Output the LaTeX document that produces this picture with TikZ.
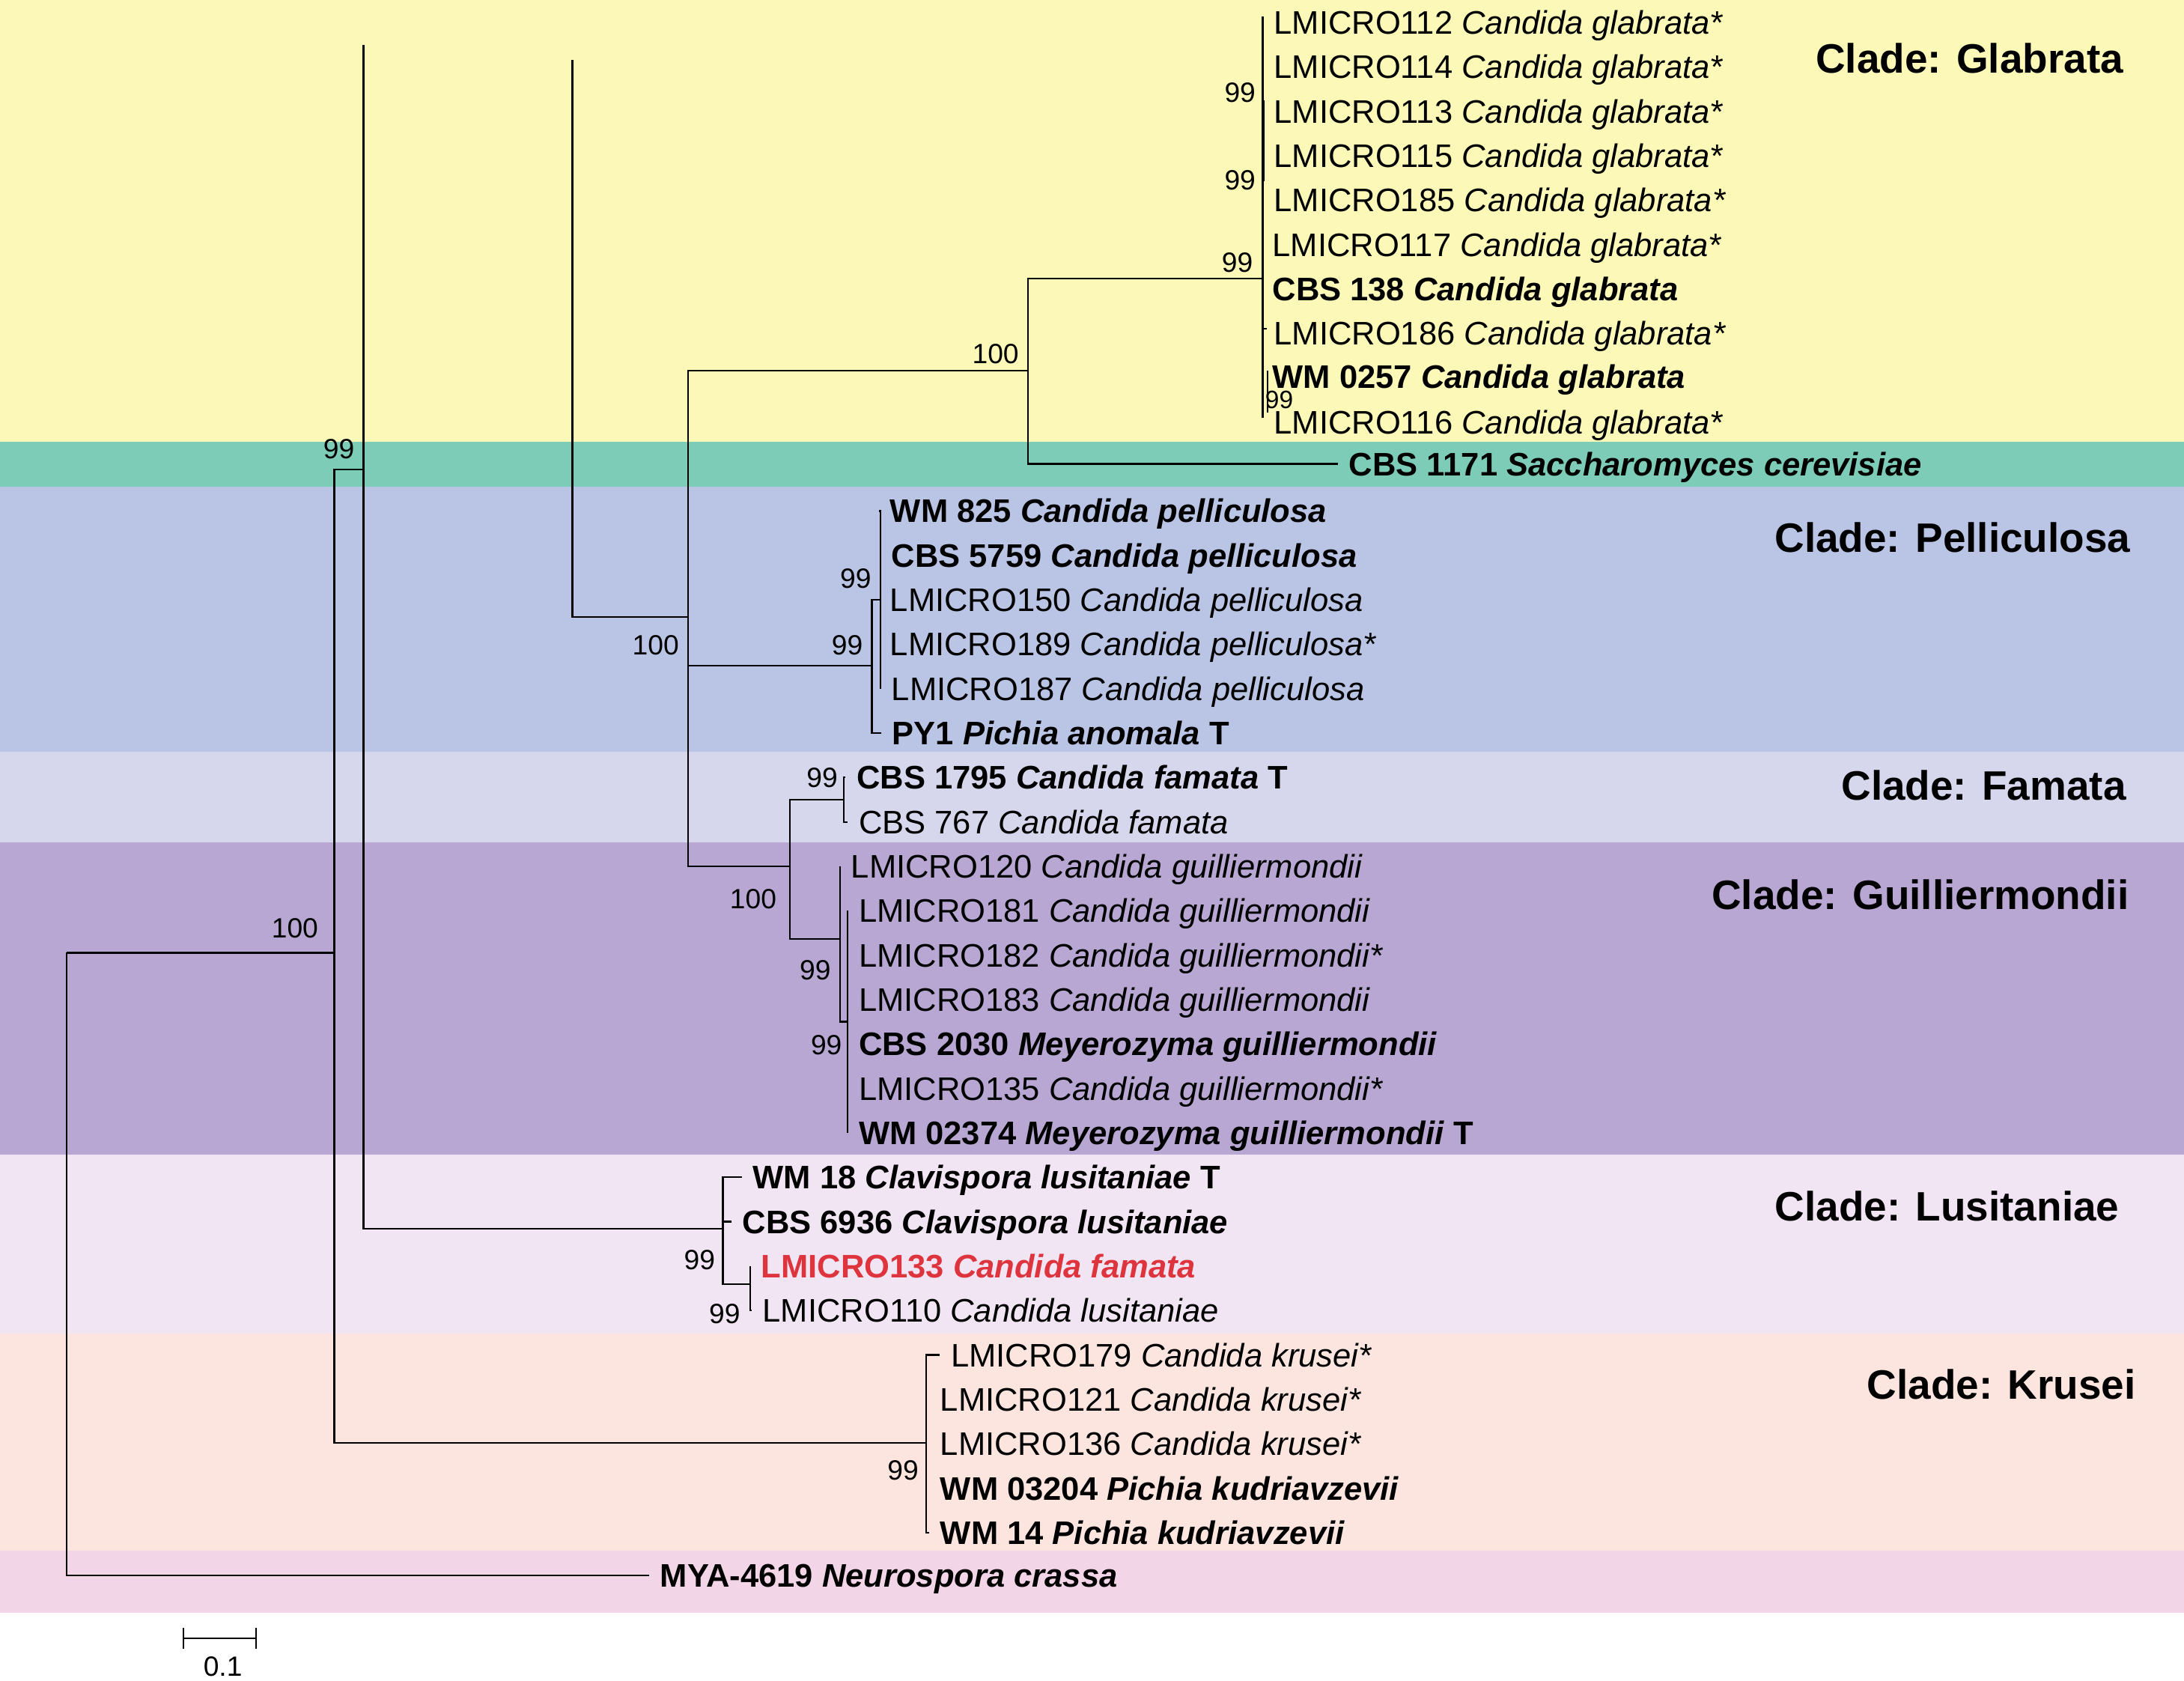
\documentclass[tikz,border=0pt]{standalone}
\usepackage{fontspec}
\setmainfont{Liberation Sans}
\definecolor{bYel}{RGB}{251,248,184}
\definecolor{bTeal}{RGB}{125,204,184}
\definecolor{bBlue}{RGB}{186,197,229}
\definecolor{bFam}{RGB}{214,215,236}
\definecolor{bPur}{RGB}{183,167,210}
\definecolor{bLus}{RGB}{242,229,243}
\definecolor{bKru}{RGB}{252,229,223}
\definecolor{bPink}{RGB}{243,213,232}
\definecolor{lred}{RGB}{221,52,62}
\begin{document}
\begin{tikzpicture}[x=0.5pt,y=-0.5pt,line width=0.6pt,
  leaf/.style={anchor=west,inner xsep=3.75pt,inner ysep=0pt,text height=8.35pt,text depth=0pt,font=\fontsize{11.7}{13}\selectfont},
  boot/.style={anchor=east,inner sep=0pt,text height=7.16pt,text depth=0pt,font=\fontsize{10}{12}\selectfont},
  clade/.style={anchor=east,inner sep=0pt,text height=10.56pt,text depth=0pt,font=\bfseries\fontsize{14.75}{17}\selectfont},
  branch/.style={draw=black,line width=0.6pt}]
\useasboundingbox (0,0) rectangle (1568,1206.7);
% background bands
\fill[bYel] (0,0) rectangle (1568,317);
\fill[bTeal] (0,317) rectangle (1568,349.5);
\fill[bBlue] (0,349.5) rectangle (1568,539.5);
\fill[bFam] (0,539.5) rectangle (1568,604.5);
\fill[bPur] (0,604.5) rectangle (1568,829);
\fill[bLus] (0,829) rectangle (1568,957.5);
\fill[bKru] (0,957.5) rectangle (1568,1113);
\fill[bPink] (0,1113) rectangle (1568,1157.7);

% internal nodes
\coordinate (R) at (48,684);
\coordinate (A) at (240,684);
\coordinate (Bj) at (261,337);
\coordinate (Btop) at (261,32);
\coordinate (Ctop) at (411,43);
\coordinate (D) at (494,443);
\coordinate (Gl) at (738,266);
\coordinate (G0) at (906.6,200);
\coordinate (Gtop) at (906.6,12);
\coordinate (Gbot) at (906.6,300);
\coordinate (Gt1) at (907,72);
\coordinate (Gt2) at (907,130);
\coordinate (Gs1) at (910,266);
\coordinate (Gs2) at (910,296);
\coordinate (Gk1) at (906.6,236);
\coordinate (Gk2) at (909.5,236);
\coordinate (Pe) at (626,478);
\coordinate (Pi) at (632,430.6);
\coordinate (FG) at (567,622);
\coordinate (Fa) at (606,574);
\coordinate (Gu) at (603,674);
\coordinate (Gi) at (608.5,733.5);
\coordinate (Lus) at (519,882);
\coordinate (Li) at (538.4,922);
\coordinate (K) at (665,1036);

% leaves: Glabrata
\node[leaf] (g112) at (906.6,16.0) {LMICRO112 \textit{Candida glabrata*}};
\node[leaf] (g114) at (906.6,47.9) {LMICRO114 \textit{Candida glabrata*}};
\node[leaf] (g113) at (906.6,79.8) {LMICRO113 \textit{Candida glabrata*}};
\node[leaf] (g115) at (906.6,111.7) {LMICRO115 \textit{Candida glabrata*}};
\node[leaf] (g185) at (906.6,143.6) {LMICRO185 \textit{Candida glabrata*}};
\node[leaf] (g117) at (905.5,175.5) {LMICRO117 \textit{Candida glabrata*}};
\node[leaf] (g138) at (905.5,207.3) {\textbf{CBS 138 \textit{Candida glabrata}}};
\node[leaf] (g186) at (906.6,239.2) {LMICRO186 \textit{Candida glabrata*}};
\node[leaf] (g257) at (905.5,270.6) {\textbf{WM 0257 \textit{Candida glabrata}}};
\node[leaf] (g116) at (906.6,303.0) {LMICRO116 \textit{Candida glabrata*}};
\node[leaf] (sac) at (960.5,333) {\textbf{CBS 1171 \textit{Saccharomyces cerevisiae}}};
% Pelliculosa
\node[leaf] (p825) at (631,366.8) {\textbf{WM 825 \textit{Candida pelliculosa}}};
\node[leaf] (p5759) at (632,398.7) {\textbf{CBS 5759 \textit{Candida pelliculosa}}};
\node[leaf] (p150) at (631,430.6) {LMICRO150 \textit{Candida pelliculosa}};
\node[leaf] (p189) at (631,462.5) {LMICRO189 \textit{Candida pelliculosa*}};
\node[leaf] (p187) at (632,494.4) {LMICRO187 \textit{Candida pelliculosa}};
\node[leaf] (py1) at (632.5,526.2) {\textbf{PY1 \textit{Pichia anomala} T}};
% Famata
\node[leaf] (f1795) at (607,558.1) {\textbf{CBS 1795 \textit{Candida famata} T}};
\node[leaf] (f767) at (608.5,590.0) {CBS 767 \textit{Candida famata}};
% Guilliermondii
\node[leaf] (q120) at (603,621.9) {LMICRO120 \textit{Candida guilliermondii}};
\node[leaf] (q181) at (608.5,653.8) {LMICRO181 \textit{Candida guilliermondii}};
\node[leaf] (q182) at (608.5,685.7) {LMICRO182 \textit{Candida guilliermondii*}};
\node[leaf] (q183) at (608.5,717.6) {LMICRO183 \textit{Candida guilliermondii}};
\node[leaf] (q2030) at (608.5,749.5) {\textbf{CBS 2030 \textit{Meyerozyma guilliermondii}}};
\node[leaf] (q135) at (608.5,781.4) {LMICRO135 \textit{Candida guilliermondii*}};
\node[leaf] (q2374) at (608.5,813.3) {\textbf{WM 02374 \textit{Meyerozyma guilliermondii} T}};
% Lusitaniae
\node[leaf] (u18) at (532.5,845.1) {\textbf{WM 18 \textit{Clavispora lusitaniae} T}};
\node[leaf] (u6936) at (525,877.0) {\textbf{CBS 6936 \textit{Clavispora lusitaniae}}};
\node[leaf,text=lred] (u133) at (538.4,908.9) {\textbf{LMICRO133 \textit{Candida famata}}};
\node[leaf] (u110) at (539.5,940.8) {LMICRO110 \textit{Candida lusitaniae}};
% Krusei
\node[leaf] (k179) at (674.6,972.7) {LMICRO179 \textit{Candida krusei*}};
\node[leaf] (k121) at (667,1004.6) {LMICRO121 \textit{Candida krusei*}};
\node[leaf] (k136) at (667,1036.5) {LMICRO136 \textit{Candida krusei*}};
\node[leaf] (k3204) at (667,1068.4) {\textbf{WM 03204 \textit{Pichia kudriavzevii}}};
\node[leaf] (k14) at (667,1100.3) {\textbf{WM 14 \textit{Pichia kudriavzevii}}};
% outgroup
\node[leaf] (mya) at (466,1131) {\textbf{MYA-4619 \textit{Neurospora crassa}}};

% branches
\draw[branch] (R) -- (A);
\draw[branch] (R) |- (mya.west);
\draw[branch] (A) |- (Bj);
\draw[branch] (A) |- (K);
\draw[branch] (Btop) |- (Lus);
\draw[branch] (Ctop) |- (D);
\draw[branch] (D) |- (Gl);
\draw[branch] (D) |- (Pe);
\draw[branch] (D) |- (FG);
\draw[branch] (Gl) |- (G0);
\draw[branch] (Gl) |- (sac.west);
\draw[branch] (Gtop) -- (Gbot);
\draw[branch,line width=1.1pt] (Gt1) -- (Gt2);
\draw[branch] (Gs1) -- (Gs2);
\draw[branch] (Gk1) -- (Gk2);
\draw[branch] (Pe) |- (Pi);
\draw[branch] (Pe) |- (py1.west);
\draw[branch] (Pi) |- (p825.west);
\draw[branch] (Pi) |- (p187.west);
\draw[branch] (FG) |- (Fa);
\draw[branch] (FG) |- (Gu);
\draw[branch] (Fa) |- (f1795.west);
\draw[branch] (Fa) |- (f767.west);
\draw[branch] (Gu) |- (q120.west);
\draw[branch] (Gu) |- (Gi);
\draw[branch] (Gi) |- (q181.west);
\draw[branch] (Gi) |- (q2374.west);
\draw[branch] (Lus) |- (u18.west);
\draw[branch] (Lus) |- (u6936.west);
\draw[branch] (Lus) |- (Li);
\draw[branch] (Li) |- (u133.west);
\draw[branch] (Li) |- (u110.west);
\draw[branch] (K) |- (k179.west);
\draw[branch] (K) |- (k14.west);

% bootstrap values
\node[boot] (s1) at (902,66) {99};
\node[boot] (s2) at (902,129) {99};
\node[boot] (s3) at (900,188) {99};
\node[boot,font=\fontsize{9}{10}\selectfont,text height=6.4pt] (s4) at (929,287) {99};
\node[boot] (s5) at (732,254) {100};
\node[boot] (s6) at (255,322) {99};
\node[boot] (s7) at (229,666) {100};
\node[boot] (s8) at (488,463) {100};
\node[boot] (s9) at (626,415) {99};
\node[boot] (s10) at (620,463) {99};
\node[boot] (s11) at (602,558) {99};
\node[boot] (s12) at (558,645) {100};
\node[boot] (s13) at (597,696) {99};
\node[boot] (s14) at (605,750) {99};
\node[boot] (s15) at (514,904) {99};
\node[boot] (s16) at (532,943) {99};
\node[boot] (s17) at (660,1055) {99};

% clade labels
\node[clade] (cG) at (1525,42) {Clade: Glabrata};
\node[clade] (cP) at (1530,386) {Clade: Pelliculosa};
\node[clade] (cF) at (1527,564) {Clade: Famata};
\node[clade] (cQ) at (1529,642) {Clade: Guilliermondii};
\node[clade] (cL) at (1522,866) {Clade: Lusitaniae};
\node[clade] (cK) at (1534,994) {Clade: Krusei};

% scale bar
\coordinate (sbL) at (131.6,1176);
\coordinate (sbR) at (183.8,1176);
\draw[branch] (sbL) -- (sbR);
\draw[branch] ([yshift=3.7pt]sbL) -- ([yshift=-3.7pt]sbL);
\draw[branch] ([yshift=3.7pt]sbR) -- ([yshift=-3.7pt]sbR);
\node[boot,anchor=center] (sbt) at (160,1196) {0.1};
\end{tikzpicture}
\end{document}
